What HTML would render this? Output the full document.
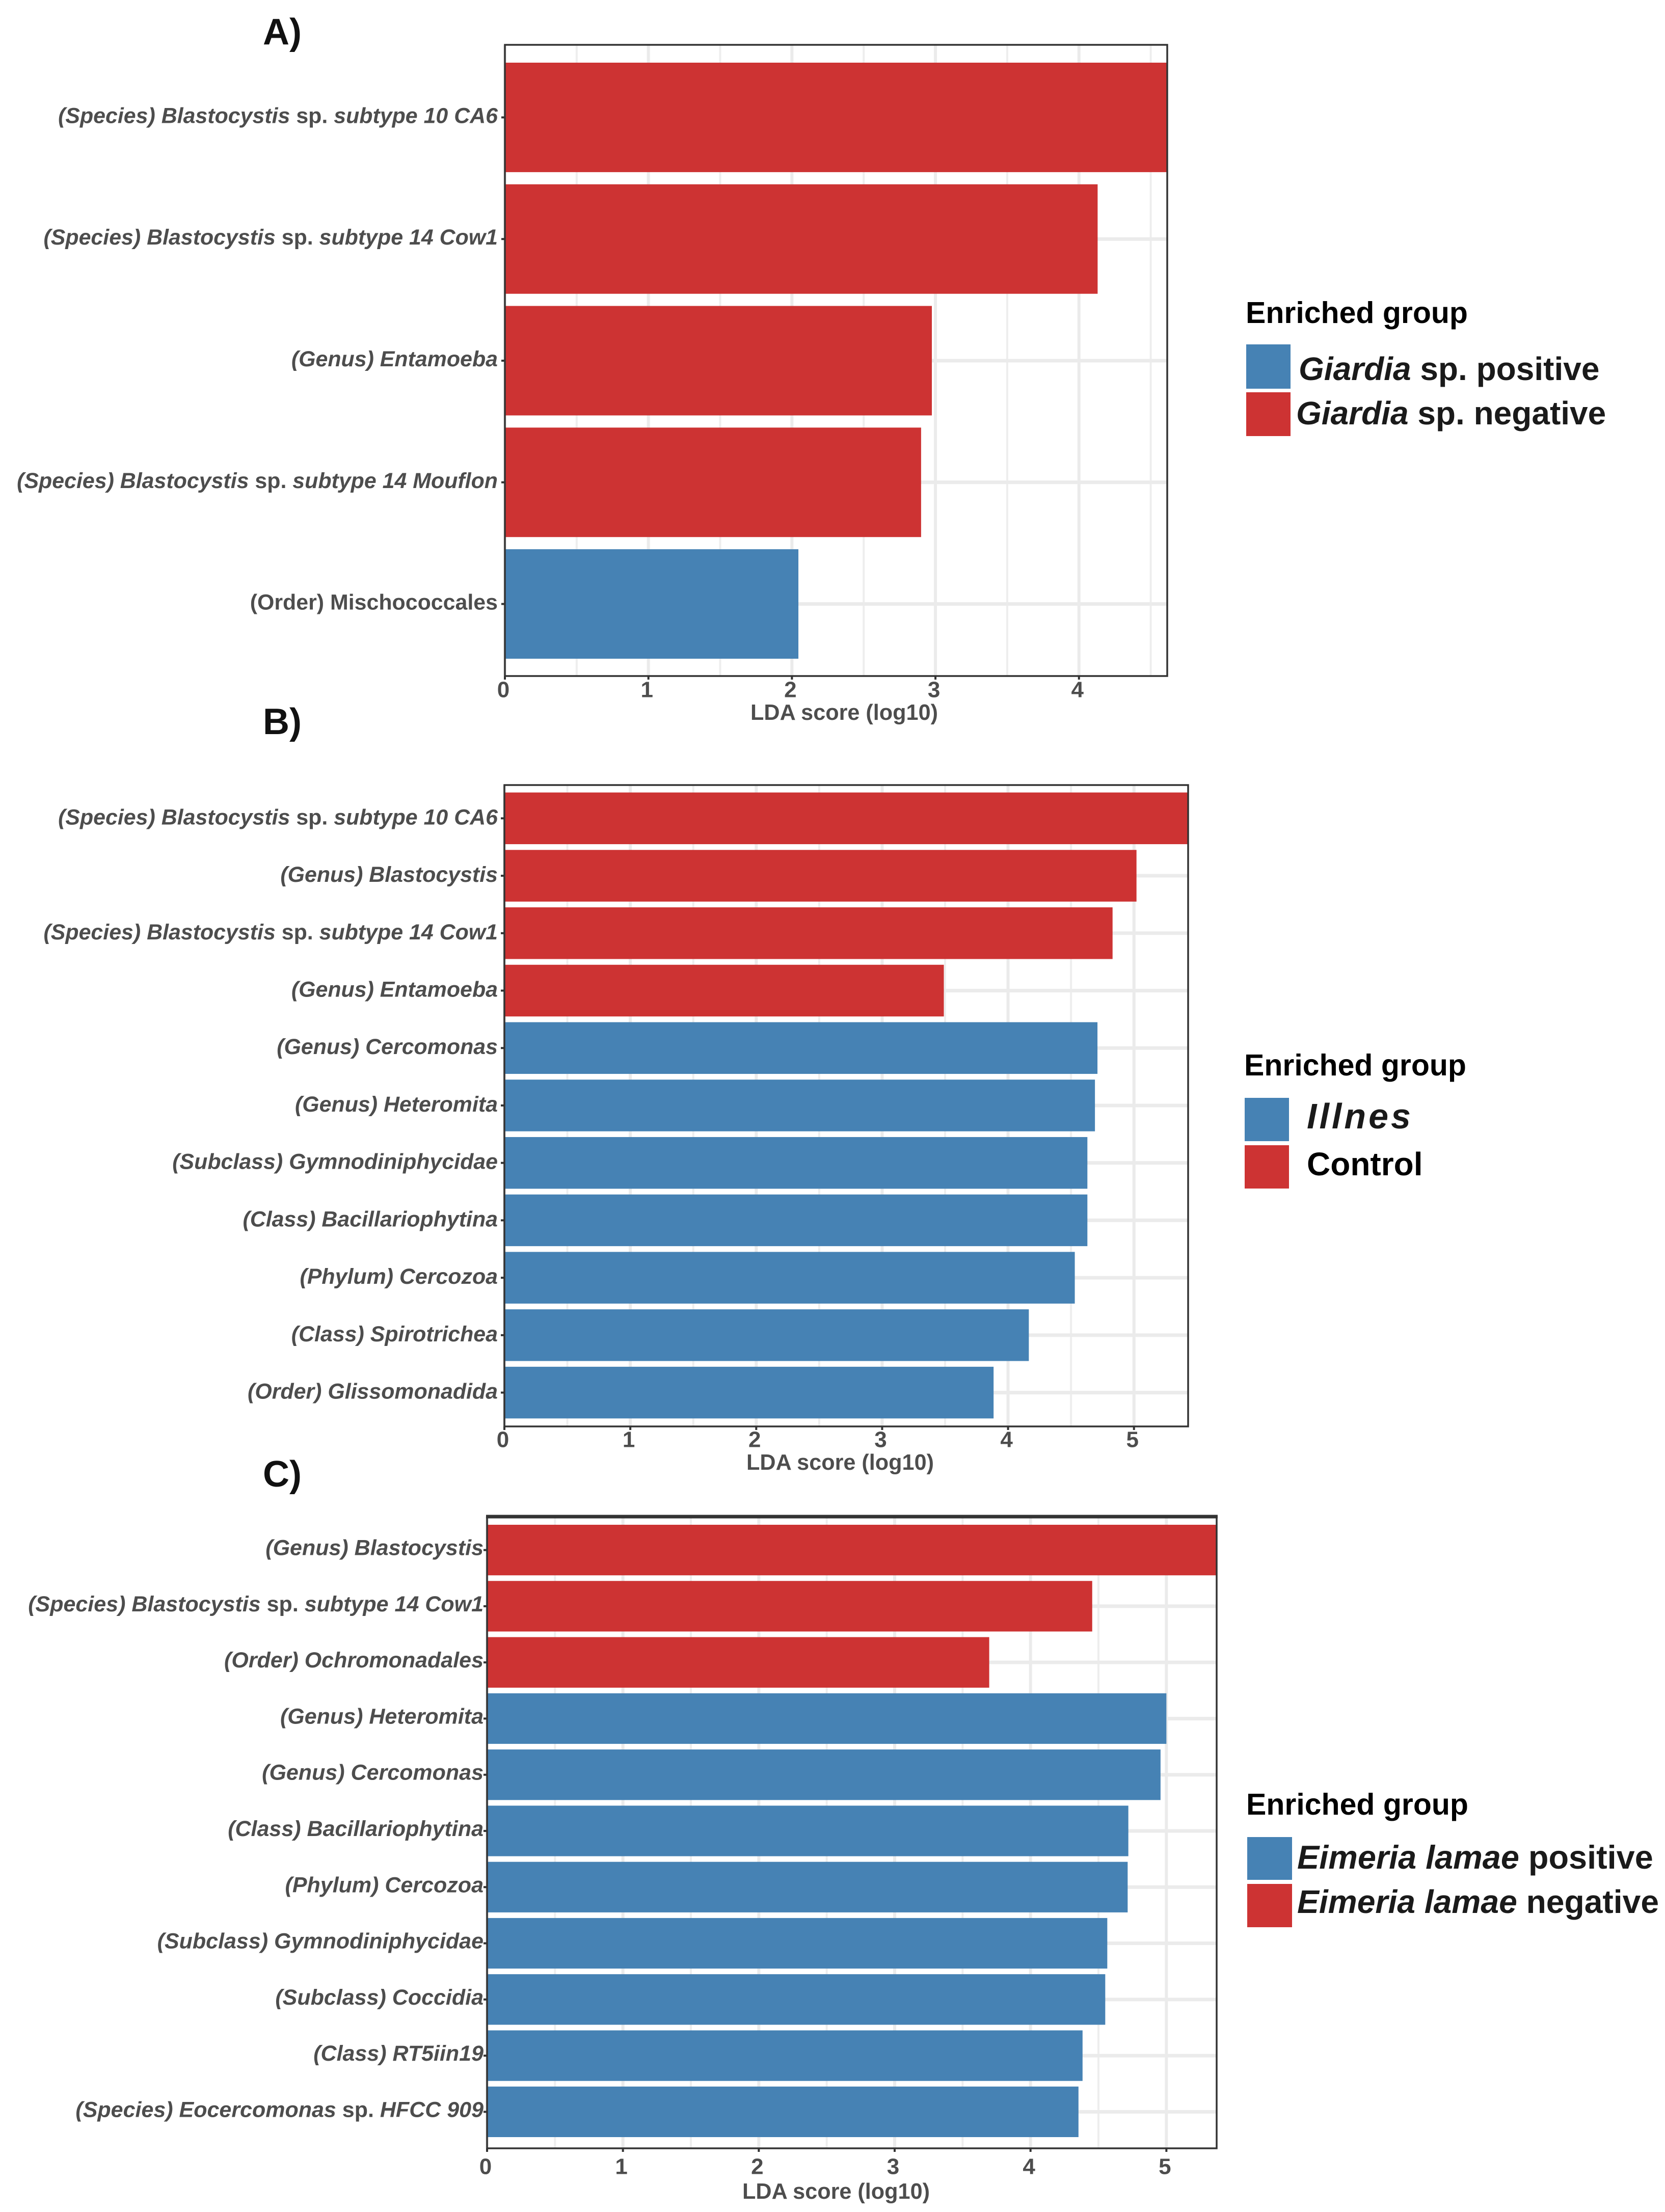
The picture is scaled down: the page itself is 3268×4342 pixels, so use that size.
<!DOCTYPE html>
<html lang="en">
<head>
<meta charset="utf-8">
<title>LDA score enriched taxa</title>
<style>
html,body{margin:0;padding:0;background:#fff;}
body{width:3268px;height:4342px;overflow:hidden;}
svg{display:block;font-family:"Liberation Sans",sans-serif;}
.panel-letter{font-size:72px;font-weight:700;fill:#111;}
.legend-title{font-size:59px;font-weight:700;fill:#000;}
.legend-label{font-size:64px;font-weight:700;fill:#1a1a1a;}
.y-label{font-weight:700;font-style:italic;fill:#4d4d4d;text-anchor:end;}
.x-tick{font-size:44px;font-weight:700;fill:#4d4d4d;text-anchor:middle;dominant-baseline:central;}
.x-title{font-size:43.2px;font-weight:700;fill:#4d4d4d;text-anchor:middle;dominant-baseline:central;}
</style>
</head>
<body>
<svg id="figure" xmlns="http://www.w3.org/2000/svg" width="3268" height="4342" viewBox="0 0 3268 4342">
  <rect x="0" y="0" width="3268" height="4342" fill="#ffffff"/>

  <text class="panel-letter" x="516" y="87">A)</text>
  <text class="panel-letter" x="516" y="1441">B)</text>
  <text class="panel-letter" x="516" y="2918">C)</text>

  <g>
    <text class="legend-title" x="2445" y="634">Enriched group</text>
    <rect x="2446" y="676" width="87" height="87" fill="#4682B4"/>
    <rect x="2446" y="770" width="87" height="86" fill="#CD3333"/>
    <text class="legend-label" x="2549" y="746"><tspan font-style="italic">Giardia</tspan> sp. positive</text>
    <text class="legend-label" x="2544" y="833"><tspan font-style="italic">Giardia</tspan> sp. negative</text>
  </g>

  <g>
    <text class="legend-title" x="2442" y="2111">Enriched group</text>
    <rect x="2443" y="2155" width="87" height="85" fill="#4682B4"/>
    <rect x="2443" y="2248" width="87" height="85" fill="#CD3333"/>
    <text class="legend-label" x="2565" y="2215" font-style="italic" style="font-size:70px;letter-spacing:5px">Illnes</text>
    <text class="legend-label" x="2565" y="2307" style="fill:#000">Control</text>
  </g>

  <g>
    <text class="legend-title" x="2446" y="3562">Enriched group</text>
    <rect x="2448" y="3606" width="88" height="84" fill="#4682B4"/>
    <rect x="2448" y="3698" width="88" height="85" fill="#CD3333"/>
    <text class="legend-label" x="2546" y="3668" style="font-size:64.8px"><tspan font-style="italic">Eimeria lamae</tspan> positive</text>
    <text class="legend-label" x="2546" y="3755" style="font-size:64.2px"><tspan font-style="italic">Eimeria lamae</tspan> negative</text>
  </g>
</svg>

<script>
// Panel A data
const categoriesA = [
  "(Species) Blastocystis sp. subtype 10 CA6",
  "(Species) Blastocystis sp. subtype 14 Cow1",
  "(Genus) Entamoeba",
  "(Species) Blastocystis sp. subtype 14 Mouflon",
  "(Order) Mischococcales"
];
const scoresA = [4.615, 4.13, 2.975, 2.90, 2.045];
const groupsA = ["neg", "neg", "neg", "neg", "pos"];
const ticksA = [0, 1, 2, 3, 4];
const domainMaxA = 4.615;

// Panel B data
const categoriesB = [
  "(Species) Blastocystis sp. subtype 10 CA6",
  "(Genus) Blastocystis",
  "(Species) Blastocystis sp. subtype 14 Cow1",
  "(Genus) Entamoeba",
  "(Genus) Cercomonas",
  "(Genus) Heteromita",
  "(Subclass) Gymnodiniphycidae",
  "(Class) Bacillariophytina",
  "(Phylum) Cercozoa",
  "(Class) Spirotrichea",
  "(Order) Glissomonadida"
];
const scoresB = [5.43, 5.02, 4.83, 3.49, 4.71, 4.69, 4.63, 4.63, 4.53, 4.165, 3.885];
const groupsB = ["neg", "neg", "neg", "neg", "pos", "pos", "pos", "pos", "pos", "pos", "pos"];
const ticksB = [0, 1, 2, 3, 4, 5];
const domainMaxB = 5.43;

// Panel C data
const categoriesC = [
  "(Genus) Blastocystis",
  "(Species) Blastocystis sp. subtype 14 Cow1",
  "(Order) Ochromonadales",
  "(Genus) Heteromita",
  "(Genus) Cercomonas",
  "(Class) Bacillariophytina",
  "(Phylum) Cercozoa",
  "(Subclass) Gymnodiniphycidae",
  "(Subclass) Coccidia",
  "(Class) RT5iin19",
  "(Species) Eocercomonas sp. HFCC 909"
];
const scoresC = [5.37, 4.454, 3.696, 5.0, 4.957, 4.72, 4.715, 4.565, 4.55, 4.383, 4.353];
const groupsC = ["neg", "neg", "neg", "pos", "pos", "pos", "pos", "pos", "pos", "pos", "pos"];
const ticksC = [0, 1, 2, 3, 4, 5];
const domainMaxC = 5.37;

const axisTitle = "LDA score (log10)";

const NS = "http://www.w3.org/2000/svg";
const figure = document.getElementById("figure");
const groupColor = { neg: "#CD3333", pos: "#4682B4" };

function svgEl(tag, parent) {
  const el = document.createElementNS(NS, tag);
  parent.appendChild(el);
  return el;
}

function line(parent, x1, y1, x2, y2, color, width) {
  const el = svgEl("line", parent);
  el.setAttribute("x1", x1);
  el.setAttribute("y1", y1);
  el.setAttribute("x2", x2);
  el.setAttribute("y2", y2);
  el.setAttribute("stroke", color);
  el.setAttribute("stroke-width", width);
  return el;
}

function addLabelText(textEl, label) {
  const parts = label.split(" sp. ");
  if (label.indexOf("(Order) Mischococcales") === 0) {
    textEl.setAttribute("font-style", "normal");
    textEl.style.fontStyle = "normal";
    textEl.textContent = label;
    return;
  }
  if (parts.length === 1) {
    textEl.textContent = label;
    return;
  }
  textEl.appendChild(document.createTextNode(parts[0] + " "));
  const upright = svgEl("tspan", textEl);
  upright.style.fontStyle = "normal";
  upright.textContent = "sp.";
  textEl.appendChild(document.createTextNode(" " + parts[1]));
}

function drawPanel(key, categories, scores, groups, ticks, domainMax, box) {
  const g = svgEl("g", figure);
  
  

  const xScale = function (v) {
    return box.left + v * (box.right - box.left) / domainMax;
  };
  const step = (box.barsBottom - box.barsTop) / (categories.length - 1 + 0.9);
  const barHeight = step * 0.9;
  const yCenter = function (i) {
    return box.barsTop + barHeight / 2 + i * step;
  };

  // minor vertical grid
  for (let k = 0; k < ticks.length; k++) {
    const minor = ticks[k] + 0.5;
    if (minor < domainMax) {
      const gm = line(g, xScale(minor), box.top, xScale(minor), box.bottom, "#eeeeee", 4);
      
      
    }
  }
  // major vertical grid
  ticks.forEach(function (t) {
    const gv = line(g, xScale(t), box.top, xScale(t), box.bottom, "#ebebeb", 6);
    
    
  });
  // horizontal grid
  categories.forEach(function (c, i) {
    const gh = line(g, box.left, yCenter(i), box.right, yCenter(i), "#ebebeb", 7);
    
    
  });

  // bars
  scores.forEach(function (v, i) {
    const bar = svgEl("rect", g);
    
    
    bar.setAttribute("x", xScale(0));
    bar.setAttribute("y", yCenter(i) - barHeight / 2);
    bar.setAttribute("width", Math.min(xScale(v), box.right) - xScale(0));
    bar.setAttribute("height", barHeight);
    bar.setAttribute("fill", groupColor[groups[i]]);
  });

  // panel border
  const border = svgEl("rect", g);
  
  
  border.setAttribute("x", box.left);
  border.setAttribute("y", box.top);
  border.setAttribute("width", box.right - box.left);
  border.setAttribute("height", box.bottom - box.top);
  border.setAttribute("fill", "none");
  border.setAttribute("stroke", "#333333");
  border.setAttribute("stroke-width", 3.5);
  if (box.topThick) {
    const thick = line(g, box.left - 2, box.top, box.right + 2, box.top, "#333333", box.topThick);
    
    
  }

  // y ticks + labels
  categories.forEach(function (c, i) {
    const tk = line(g, box.left - 7, yCenter(i), box.left, yCenter(i), "#333333", 4);
    
    
    const label = svgEl("text", g);
    label.setAttribute("class", "y-label");
    
    
    label.setAttribute("x", box.labelRight);
    label.setAttribute("y", yCenter(i) + box.labelDy);
    label.style.fontSize = box.labelSize + "px";
    addLabelText(label, c);
  });

  // x ticks + labels
  ticks.forEach(function (t) {
    const tk = line(g, xScale(t), box.bottom, xScale(t), box.bottom + 7, "#333333", 4);
    
    
    const label = svgEl("text", g);
    label.setAttribute("class", "x-tick");
    
    
    label.setAttribute("x", xScale(t) - 3);
    label.setAttribute("y", box.tickLabelY);
    label.textContent = String(t);
  });

  // x axis title
  const title = svgEl("text", g);
  title.setAttribute("class", "x-title");
  
  
  title.setAttribute("x", box.titleX);
  title.setAttribute("y", box.titleY);
  title.textContent = axisTitle;
}

drawPanel("a", categoriesA, scoresA, groupsA, ticksA, domainMaxA, {
  left: 991, right: 2291, top: 88, bottom: 1327,
  barsTop: 123, barsBottom: 1293,
  labelRight: 977, labelDy: 11, labelSize: 42.9,
  tickLabelY: 1354, titleX: 1657, titleY: 1399
});
drawPanel("b", categoriesB, scoresB, groupsB, ticksB, domainMaxB, {
  left: 990, right: 2332, top: 1541, bottom: 2800,
  barsTop: 1555.6, barsBottom: 2784.3,
  labelRight: 977, labelDy: 12, labelSize: 42.9,
  tickLabelY: 2826, titleX: 1649, titleY: 2871
});
drawPanel("c", categoriesC, scoresC, groupsC, ticksC, domainMaxC, {
  left: 956, right: 2388, top: 2977, bottom: 4217,
  barsTop: 2993, barsBottom: 4195, topThick: 7,
  labelRight: 949, labelDy: 10, labelSize: 43,
  tickLabelY: 4253, titleX: 1641, titleY: 4302
});
</script>
</body>
</html>
